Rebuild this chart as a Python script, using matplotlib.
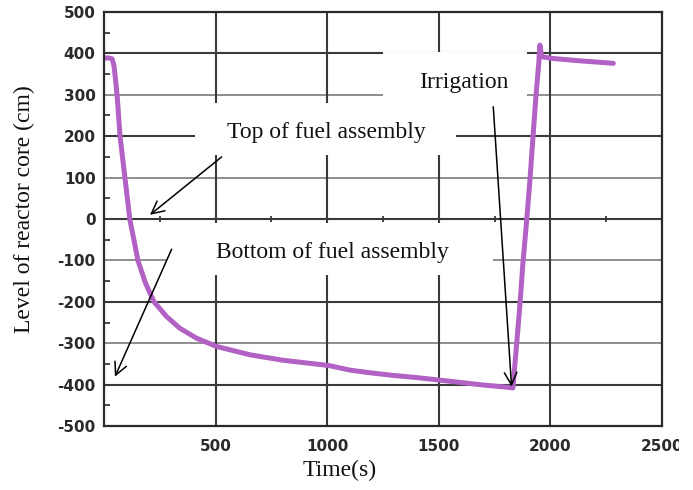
import matplotlib
matplotlib.use("Agg")
import matplotlib.pyplot as plt
from matplotlib.patches import Rectangle
import numpy as np

# ---- data ----
time_s = [0, 20, 36, 45, 52, 60, 72, 94, 116, 134, 152, 186, 224, 281, 340, 415,
          505, 654, 800, 1008, 1102, 1200, 1300, 1400, 1501, 1600, 1698, 1780,
          1832, 1846, 1864, 1877, 1894, 1909, 1922, 1935, 1948, 1953, 1961, 2006,
          2070, 2133, 2210, 2282]
level_cm = [389, 389, 387, 370, 335, 290, 199, 99, -2, -50, -100, -155, -200, -236,
            -264, -288, -308, -328, -341, -354, -365, -372, -378, -383, -389, -395,
            -401, -405, -408, -320, -203, -106, -2, 99, 199, 295, 377, 420, 392,
            388, 385, 382, 379, 376]

x_ticks = [500, 1000, 1500, 2000, 2500]
y_ticks = [-500, -400, -300, -200, -100, 0, 100, 200, 300, 400, 500]

W, H = 693, 490
fig = plt.figure(figsize=(W / 100, H / 100), dpi=100)
L, R, T, B = 104, 662, 12, 426
ax = fig.add_axes([L / W, 1 - B / H, (R - L) / W, (B - T) / H])
ax.set_xlim(0, 2500)
ax.set_ylim(-500, 500)

serif = "Liberation Serif"
tick_font = dict(family="DejaVu Sans", weight="bold", size=11)

# grid
for yv in y_ticks[1:-1]:
    dark = (yv % 200 == 0)
    ax.axhline(yv, color="#3a3a3a" if dark else "#707070",
               lw=1.5 if dark else 1.1, zorder=0.5)
for xv in x_ticks[:-1]:
    ax.axvline(xv, color="#3a3a3a", lw=1.5, zorder=0.5)

# minor ticks along the zero line
minor_x = np.arange(250, 2500, 500)
ax.plot(minor_x, np.zeros_like(minor_x), ls="none", marker="|", ms=4,
        mew=1.3, color="#3a3a3a", zorder=0.6)

# white boxes behind labels
def box(x0, x1, y0, y1):
    ax.add_patch(Rectangle((x0, y0), x1 - x0, y1 - y0, facecolor="white",
                           edgecolor="none", zorder=1))

box(408, 1577, 155, 280)      # Top of fuel assembly
box(282, 1743, -135, -10)     # Bottom of fuel assembly
box(1250, 1895, 280, 404)     # Irrigation

# data curve
ax.plot(time_s, level_cm, color="#b262c4", lw=3.6, solid_capstyle="round",
        solid_joinstyle="round", zorder=2)

# annotations
tkw = dict(family=serif, size=17, color="#111111", ha="center", va="baseline", zorder=4)
ax.text(995, 196, "Top of fuel assembly", **tkw)
ax.text(1024, -94, "Bottom of fuel assembly", **tkw)
ax.text(1613, 316, "Irrigation", **tkw)

akw = dict(arrowstyle="->,head_length=0.9,head_width=0.45", color="black", lw=1.1,
           shrinkA=0, shrinkB=0)
ax.annotate("", xy=(206, 10), xytext=(527, 150), arrowprops=akw, zorder=4)
ax.annotate("", xy=(49, -381), xytext=(303, -73), arrowprops=akw, zorder=4)
ax.annotate("", xy=(1826, -405), xytext=(1744, 271), arrowprops=akw, zorder=4)

# axes styling
ax.set_xticks(x_ticks)
ax.set_xticklabels([str(v) for v in x_ticks], fontdict=tick_font, color="#2a2a2a")
ax.set_yticks(y_ticks)
ax.set_yticklabels([str(v) for v in y_ticks], fontdict=tick_font, color="#2a2a2a")
ax.set_yticks(np.arange(-450, 500, 100), minor=True)
ax.tick_params(axis="both", which="major", length=0)
ax.tick_params(axis="y", which="major", pad=6)
ax.tick_params(axis="x", which="major", pad=9)
ax.tick_params(axis="y", which="minor", direction="in", length=4, width=1.3,
               color="#3a3a3a")
for s in ax.spines.values():
    s.set_color("#2a2a2a")
    s.set_linewidth(1.6)

ax.set_xlabel("Time(s)", family=serif, size=17, color="#111111")
ax.xaxis.set_label_coords(0.423, -0.082)
ax.set_ylabel("Level of reactor core (cm)", family=serif, size=17, color="#111111",
              va="center")
ax.yaxis.set_label_coords(-0.143, 0.524)

# clip the last x tick label at the image edge like the reference
fig.add_artist(Rectangle((679 / W, 0), (W - 679) / W, 70 / H,
                         transform=fig.transFigure, facecolor="white",
                         edgecolor="none", zorder=10))

fig.savefig("out.png", dpi=100)
